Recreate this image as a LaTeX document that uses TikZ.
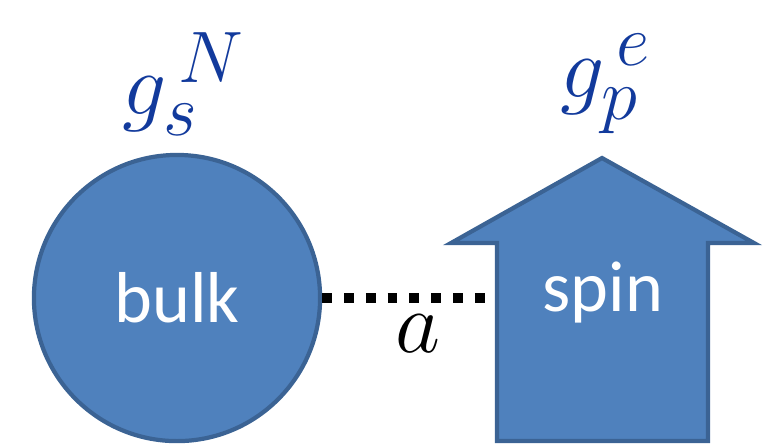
\documentclass[tikz,border=0pt]{standalone}
\usepackage{fontspec}
\setsansfont{Carlito}
\usetikzlibrary{shapes.geometric}
\definecolor{fillblue}{HTML}{4F81BD}
\definecolor{edgeblue}{HTML}{3B6394}
\definecolor{labelblue}{HTML}{123A9C}
\tikzset{%
  % filled shapes and their texts
  body/.style = {
    fill=fillblue,
    draw=edgeblue,
    line width=1.2pt
  },
  tag/.style = {
    text=white,
    font=\sffamily\fontsize{20.5}{24}\selectfont
  },
  coupling/.style = {
    text=labelblue,
    font=\fontsize{31}{36}\selectfont
  },
  link/.style = {
    line width=2.8pt,
    dash pattern=on 2.8pt off 3.4pt
  },
}

\begin{document}
\begin{tikzpicture}[x=0.01cm, y=-0.01cm]
  \useasboundingbox (0,0) rectangle (768,444);
  % nodes
  \node (bulk) [body, circle, minimum size=2.86cm, tag] at (177,298) {bulk};
  \filldraw[body] (497,441) -- (497,243) -- (451,243) -- (602,158)
    -- (754,243) -- (708,243) -- (708,441) -- cycle;
  \coordinate (shaft) at (497,298);
  \node (spin) [tag] at (603,292) {spin};
  \node (gbulk) [coupling] at (184,84) {$g_s^{\,N}$};
  \node (gspin) [coupling] at (606,84) {$g_p^{\,e}$};
  % lines
  \draw[link, shorten >=0.1cm] (bulk.east) -- (shaft)
    node[pos=0.55, below=0pt, font=\fontsize{28}{32}\selectfont] (dist) {$a$};
\end{tikzpicture}
\end{document}
